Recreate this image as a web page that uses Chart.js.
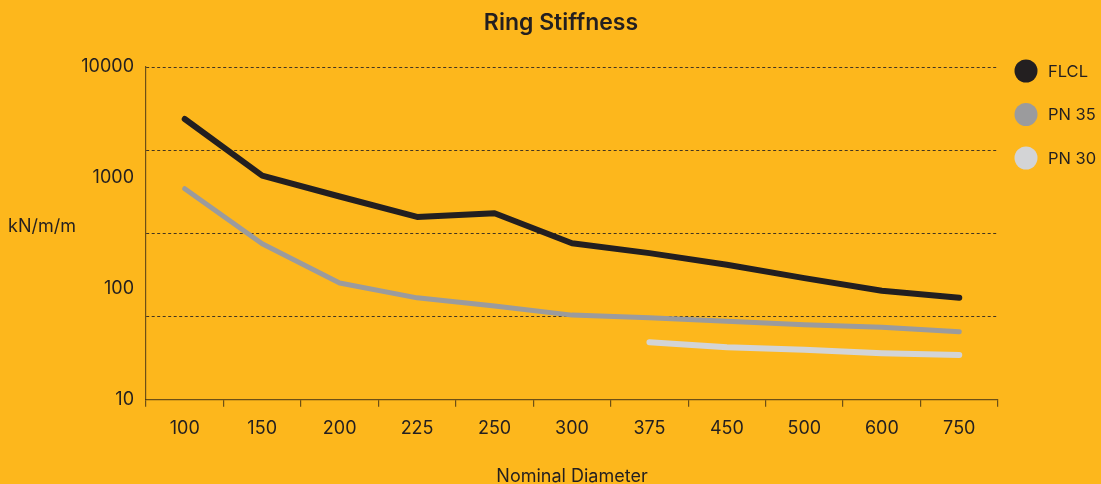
<!DOCTYPE html>
<html><head><meta charset="utf-8">
<script src="https://cdn.jsdelivr.net/npm/chart.js@4"></script>
<style>
html,body{margin:0;padding:0;background:#FDB71C;overflow:hidden;width:1101px;height:484px}
canvas{display:block}
</style>
</head><body>
<canvas id="c" width="1122" height="484" style="width:1122px;height:484px"></canvas>
<script>
const categories = ['100','150','200','225','250','300','375','450','500','600','750'];
const seriesNames = ['FLCL','PN 35','PN 30'];
const flcl = [3400,1050,680,445,480,258,210,165,125,96,83];
const pn35 = [800,255,113,83,70,58,55,51,47.5,45,41];
const pn30 = [null,null,null,null,null,null,33,29.7,28.2,26.3,25.4];
const yLabelTicks = [10,100,1000,10000];
const yGridTicks = [56.23,316.2,1778,10000];

const BG = '#FDB71C';
const INK = '#231F20';
const AXIS = 'rgba(60,45,20,0.75)';
const GRID = 'rgba(35,31,32,0.85)';
const colors = ['#231F20','#9B9B9D','#D3D4D6'];
const widths = [6,5,6];
const FONT = 'Inter, "Noto Sans", sans-serif';

const bgPlugin = {
  id:'bg',
  beforeDraw(chart){
    const c=chart.ctx; c.save(); c.fillStyle=BG; c.fillRect(0,0,chart.width,chart.height); c.restore();
  }
};
const extrasPlugin = {
  id:'extras',
  afterDraw(chart){
    const c=chart.ctx; c.save();
    c.fillStyle=INK; c.font='18px '+FONT; c.textAlign='left'; c.textBaseline='middle';
    c.fillText('kN/m/m', 8, 227);
    chart.data.datasets.forEach((ds,i)=>{
      const cy = 71 + i*43.5;
      c.beginPath(); c.arc(1026, cy, 11.5, 0, Math.PI*2); c.fillStyle=ds.borderColor; c.fill();
      c.fillStyle=INK; c.font='16.5px '+FONT; c.textBaseline='middle';
      c.fillText(ds.label, 1048, cy+1);
    });
    c.restore();
  }
};

const allYTicks = [...new Set([...yLabelTicks, ...yGridTicks])].sort((a,b)=>a-b);
const seriesData = [flcl, pn35, pn30];

new Chart(document.getElementById('c'), {
  type:'line',
  data:{
    labels: categories,
    datasets: seriesData.map((d,i)=>({
      label: seriesNames[i], data: d,
      borderColor: colors[i], backgroundColor: colors[i],
      borderWidth: widths[i], pointRadius: 0, tension: 0,
      borderCapStyle:'round', borderJoinStyle:'round', spanGaps:false
    }))
  },
  options:{
    responsive:false, animation:false, devicePixelRatio:1,
    layout:{padding:{left:0,right:0,top:0,bottom:0}},
    plugins:{
      legend:{display:false},
      tooltip:{enabled:false},
      title:{display:true, text:'Ring Stiffness', color:INK,
        font:{family:FONT, size:23, weight:'600'}, padding:{top:9,bottom:30.4}}
    },
    scales:{
      x:{
        offset:true,
        grid:{offset:true, drawOnChartArea:false, drawTicks:true, tickLength:7, color:AXIS, lineWidth:1.2},
        border:{display:true, color:AXIS, width:1.2},
        ticks:{color:INK, font:{family:FONT,size:18}, padding:10.5, maxRotation:0, autoSkip:false},
        title:{display:true, text:'Nominal Diameter', color:INK, font:{family:FONT,size:18}, padding:{top:16,bottom:-3}}
      },
      y:{
        type:'logarithmic', min:10, max:10000,
        afterBuildTicks(scale){ scale.ticks = allYTicks.map(v=>({value:v})); },
        afterFit(scale){ scale.width = 146; },
        grid:{drawTicks:false, lineWidth:1,
          color:(ctx)=> (ctx.tick && yGridTicks.includes(ctx.tick.value)) ? GRID : 'rgba(0,0,0,0)'},
        border:{display:true, color:AXIS, width:1.2, dash:[3,2.5]},
        ticks:{color:INK, font:{family:FONT,size:18}, padding:12, autoSkip:false,
          callback:(v)=> yLabelTicks.includes(v) ? String(v) : ''}
      },
      yRight:{
        type:'linear', position:'right', display:true,
        afterFit(scale){ scale.width = 124; },
        grid:{display:false, drawTicks:false}, border:{display:false},
        ticks:{display:false}
      }
    }
  },
  plugins:[bgPlugin, extrasPlugin]
});
</script>
</body></html>
